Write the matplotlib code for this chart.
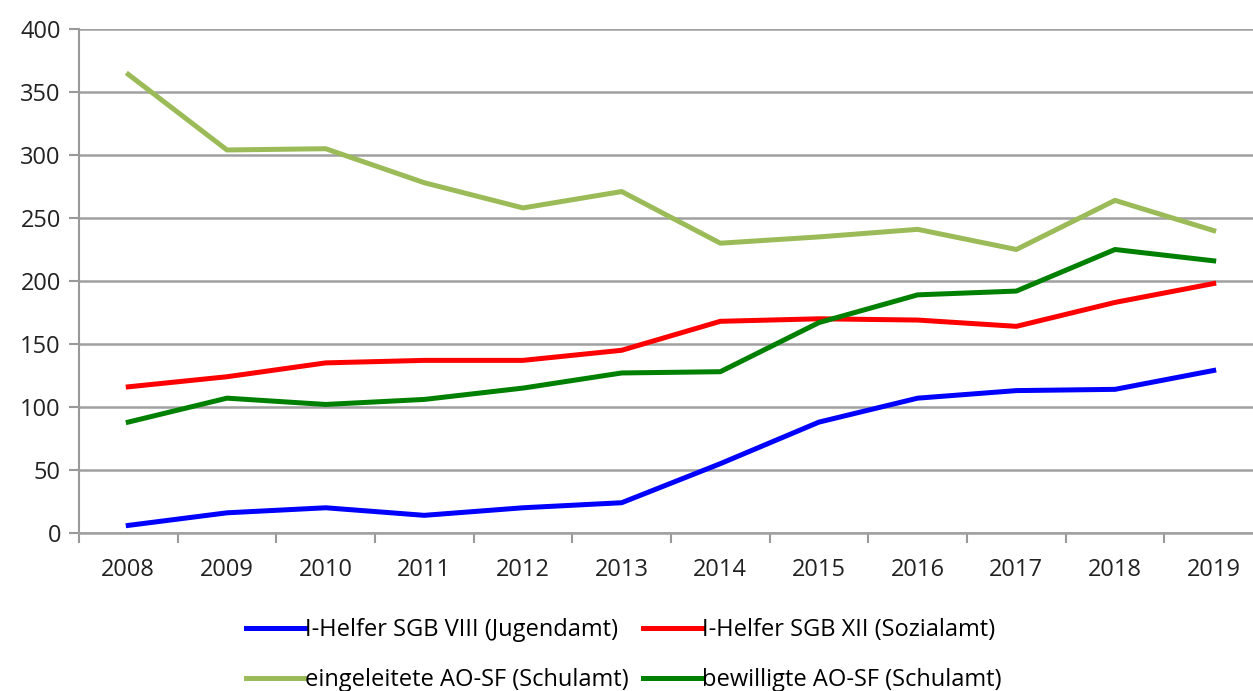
import numpy as np
import matplotlib
matplotlib.use('Agg')
import matplotlib.pyplot as plt
from matplotlib.ticker import FixedLocator

plt.rcParams.update({'font.size': 17, 'font.family': ['Open Sans', 'DejaVu Sans']})

years = ['2008', '2009', '2010', '2011', '2012', '2013', '2014', '2015', '2016', '2017', '2018', '2019']
jugendamt = [6, 16, 20, 14, 20, 24, 55, 88, 107, 113, 114, 129]
sozialamt = [116, 124, 135, 137, 137, 145, 168, 170, 169, 164, 183, 198]
eingeleitet = [364, 304, 305, 278, 258, 271, 230, 235, 241, 225, 264, 240]
bewilligt = [88, 107, 102, 106, 115, 127, 128, 167, 189, 192, 225, 216]

fig = plt.figure(figsize=(12.53, 6.91), dpi=100)
ax = fig.add_axes([0.063, 0.2287, 0.945, 0.7293])
x = np.arange(len(years))

l1, = ax.plot(x, jugendamt, color='#0000ff', linewidth=3.6, label='I-Helfer SGB VIII (Jugendamt)')
l2, = ax.plot(x, sozialamt, color='#ff0000', linewidth=3.6, label='I-Helfer SGB XII (Sozialamt)')
l3, = ax.plot(x, eingeleitet, color='#9bbb59', linewidth=3.6, label='eingeleitete AO-SF (Schulamt)')
l4, = ax.plot(x, bewilligt, color='#008000', linewidth=3.6, label='bewilligte AO-SF (Schulamt)')

ax.set_xlim(-0.5, 11.5)
ax.set_ylim(0, 400)
ax.set_yticks(np.arange(0, 401, 50))
ax.set_xticks(x)
ax.set_xticklabels(years)
ax.xaxis.set_minor_locator(FixedLocator(np.arange(-0.5, 11.6, 1)))
ax.tick_params(axis='x', which='major', length=0, pad=18, labelcolor='#222222')
ax.tick_params(axis='x', which='minor', length=7, width=1.5, color='#999999', direction='out')
ax.tick_params(axis='y', length=7, width=1.5, color='#999999', pad=6, labelcolor='#222222')
ax.grid(axis='y', color='#a0a0a0', linewidth=1.8)
ax.set_axisbelow(True)
for s in ['top', 'right']:
    ax.spines[s].set_visible(False)
ax.spines['left'].set_color('#999999')
ax.spines['left'].set_linewidth(1.5)
ax.spines['bottom'].set_color('#a0a0a0')
ax.spines['bottom'].set_linewidth(1.8)

fig.legend([l1, l3, l2, l4], [l.get_label() for l in [l1, l3, l2, l4]],
           loc='lower center', bbox_to_anchor=(0.498, -0.032), ncol=2, frameon=False,
           handlelength=2.5, handletextpad=0.0, columnspacing=0.6, labelspacing=1.1,
           fontsize=17)

fig.savefig('out.png', dpi=100)
